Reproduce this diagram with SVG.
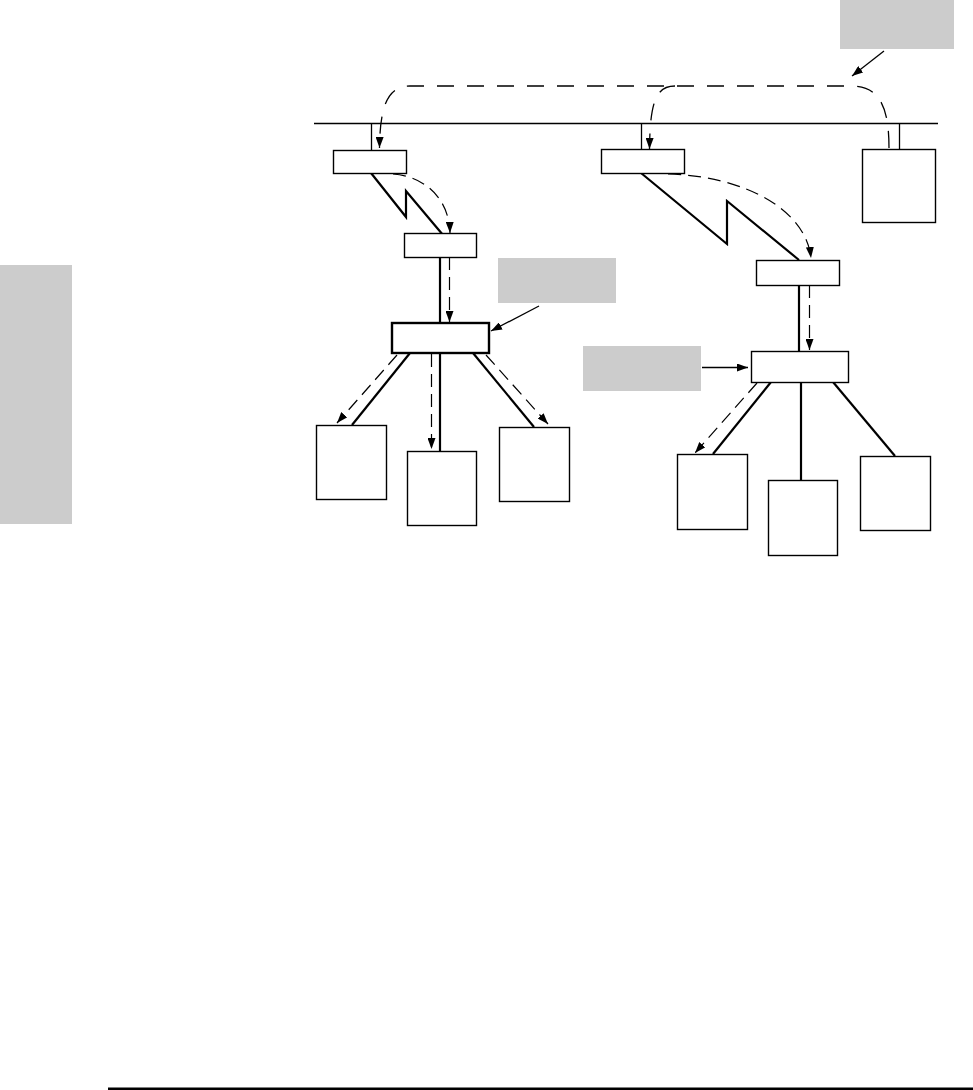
<svg xmlns="http://www.w3.org/2000/svg" width="973" height="1090" viewBox="0 0 973 1090">
<style>
.box{fill:#fff;stroke:#000;stroke-width:1.4}
.bold{fill:#fff;stroke:#000;stroke-width:2.4}
.gray{fill:#cccccc;stroke:none}
.thin{fill:none;stroke:#000;stroke-width:1.3}
.thick{fill:none;stroke:#000;stroke-width:2.2}
.dash{fill:none;stroke:#000;stroke-width:1.2;stroke-dasharray:13 7}
.dashT{fill:none;stroke:#000;stroke-width:1.3;stroke-dasharray:17 13}
</style>
<defs>
<marker id="ah" markerUnits="userSpaceOnUse" markerWidth="11" markerHeight="8" refX="11" refY="4" orient="auto">
<path d="M0,0 L11,4 L0,8 z" fill="#000"/>
</marker>
</defs>
<rect width="973" height="1090" fill="#fff"/>
<g id="side-tab"><rect class="gray" x="0" y="265" width="72" height="259"/></g>
<g id="footer-rule"><rect x="108" y="1087.5" width="865" height="2.5" fill="#000"/></g>
<g id="bus"><line class="thin" x1="314" y1="123.5" x2="938" y2="123.5"/></g>
<g id="callout-top"><rect class="gray" x="840" y="0" width="114" height="49"/></g>
<g id="callout-mid"><rect class="gray" x="498" y="258" width="118" height="45"/></g>
<g id="callout-right"><rect class="gray" x="583" y="346" width="118" height="45"/></g>
<g id="connectors">
<line class="thin" x1="371.5" y1="123.5" x2="371.5" y2="150"/>
<line class="thin" x1="641.5" y1="123.5" x2="641.5" y2="149"/>
<line class="thin" x1="899.5" y1="123.5" x2="899.5" y2="149"/>
<polyline class="thick" points="371,173 406,217 406,191 443,235"/>
<polyline class="thick" points="641,173 727,244 727,201 799,260"/>
<line class="thick" x1="440" y1="257" x2="440" y2="323"/>
<line class="thick" x1="799" y1="285" x2="799" y2="351"/>
<line class="thick" x1="410" y1="353" x2="352" y2="425"/>
<line class="thick" x1="440" y1="353" x2="440" y2="451"/>
<line class="thick" x1="473" y1="353" x2="534" y2="427"/>
<line class="thick" x1="771" y1="382" x2="713" y2="454"/>
<line class="thick" x1="801" y1="382" x2="801" y2="480"/>
<line class="thick" x1="833" y1="382" x2="895" y2="456"/>
<path class="dashT" d="M889,148 C889,108 880,86 852,86 L410,86 C388,86 380,105 379.5,148" marker-end="url(#ah)"/>
<path class="dashT" d="M675,86 C656,86 650,102 649.5,149" marker-end="url(#ah)"/>
<path class="dash" d="M393,174 C422,176 449,196 450,233" marker-end="url(#ah)"/>
<path class="dash" d="M668,174 C745,176 806,210 811,258" marker-end="url(#ah)"/>
<line class="dash" x1="449.5" y1="257" x2="449.5" y2="322" marker-end="url(#ah)"/>
<line class="dash" x1="809.5" y1="285" x2="809.5" y2="350" marker-end="url(#ah)"/>
<line class="dash" x1="397" y1="355" x2="337" y2="423" marker-end="url(#ah)"/>
<line class="dash" x1="431.5" y1="354" x2="431.5" y2="449" marker-end="url(#ah)"/>
<line class="dash" x1="486" y1="355" x2="548" y2="424" marker-end="url(#ah)"/>
<line class="dash" x1="757" y1="383" x2="695" y2="453" marker-end="url(#ah)"/>
<line class="thin" x1="884" y1="51" x2="852" y2="76" marker-end="url(#ah)"/>
<line class="thin" x1="539" y1="306" x2="491" y2="331" marker-end="url(#ah)"/>
<line class="thin" x1="702" y1="367.5" x2="748" y2="367.5" marker-end="url(#ah)"/>
</g>
<g id="router-left"><rect class="box" x="333.5" y="150.5" width="73" height="23"/></g>
<g id="router-mid"><rect class="box" x="601.5" y="149.5" width="83" height="24"/></g>
<g id="server-right"><rect class="box" x="862.5" y="149.5" width="73" height="73"/></g>
<g id="router-left-2"><rect class="box" x="404.5" y="233.5" width="72" height="24"/></g>
<g id="router-right-2"><rect class="box" x="756.5" y="260.5" width="83" height="25"/></g>
<g id="switch-left"><rect class="bold" x="392" y="323" width="97" height="30"/></g>
<g id="switch-right"><rect class="box" x="751.5" y="351.5" width="97" height="31"/></g>
<g id="host-l1"><rect class="box" x="316.5" y="425.5" width="70" height="74"/></g>
<g id="host-l2"><rect class="box" x="407.5" y="451.5" width="69" height="74"/></g>
<g id="host-l3"><rect class="box" x="499.5" y="427.5" width="70" height="74"/></g>
<g id="host-r1"><rect class="box" x="677.5" y="454.5" width="70" height="75"/></g>
<g id="host-r2"><rect class="box" x="768.5" y="480.5" width="69" height="75"/></g>
<g id="host-r3"><rect class="box" x="860.5" y="456.5" width="70" height="74"/></g>
</svg>
